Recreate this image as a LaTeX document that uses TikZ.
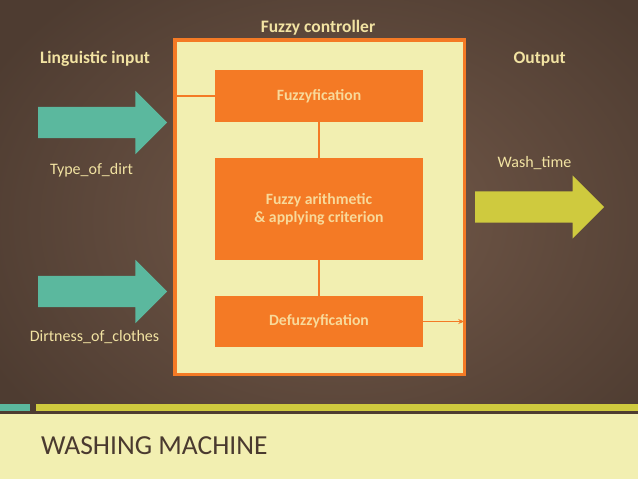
\documentclass[tikz,border=0pt]{standalone}
\usepackage{fontspec}
\setmainfont{Carlito}
\usetikzlibrary{shapes.arrows,arrows.meta}

\definecolor{bgmid}{HTML}{745A4A}
\definecolor{bgedge}{HTML}{4E3C31}
\definecolor{panel}{HTML}{F2EFB1}
\definecolor{fuzzorange}{HTML}{F47A25}
\definecolor{labelcream}{HTML}{F2E3A2}
\definecolor{boxtext}{HTML}{F8D99A}
\definecolor{inteal}{HTML}{5BB89E}
\definecolor{outolive}{HTML}{CFCA3E}
\definecolor{titlebrown}{HTML}{4A3A2F}

\tikzset{
  stage/.style={fill=fuzzorange, minimum width=208pt, text=boxtext,
    font=\fontsize{15.7}{18.3}\selectfont\bfseries, align=center},
  bigarrow/.style={single arrow, single arrow head extend=16pt,
    inner xsep=0pt, inner ysep=15.5pt, minimum height=129pt, anchor=tail},
  heading/.style={text=labelcream, font=\fontsize{17.5}{20}\selectfont\bfseries, anchor=base},
  varname/.style={text=labelcream, font=\fontsize{16}{19}\selectfont, anchor=base},
  link/.style={draw=fuzzorange, line width=1.2pt}
}

\begin{document}
\begin{tikzpicture}[x=1pt,y=-1pt]
\useasboundingbox (0,0) rectangle (638,479);
\begin{scope}
\clip (0,0) rectangle (638,404);
\shade[inner color=bgmid, outer color=bgedge] (-60,-80) rectangle (740,520);
\end{scope}
\fill[bgedge] (0,404) rectangle (638,414);
\fill[inteal] (0,404) rectangle (30,411);
\fill[outolive] (36,404) rectangle (638,411);
\fill[panel] (0,414) rectangle (638,479);
\node[text=titlebrown, font=\fontsize{27.5}{34}\selectfont, anchor=base west, inner sep=0pt] at (41,454) (title) {WASHING MACHINE};

\node[draw=fuzzorange, line width=3.5pt, fill=panel, minimum width=289.5pt, minimum height=334.5pt] at (319.5,207) (ctrl) {};
\node[heading] at (318,32) (ctrllabel) {Fuzzy controller};
\node[stage, minimum height=52pt] at (319,96) (fuzz) {Fuzzyfication};
\node[stage, minimum height=102pt] at (319,209) (arith) {Fuzzy arithmetic\\\& applying criterion};
\node[stage, minimum height=51pt] at (319,321.5) (defuzz) {Defuzzyfication};
\draw[link] (fuzz) -- (arith);
\draw[link] (arith) -- (defuzz);
\draw[link] (ctrl.west |- fuzz.west) -- (fuzz.west);
\draw[link, shorten >=1.75pt, -{Stealth[length=6pt,width=5pt]}] (defuzz.east) -- (ctrl.east |- defuzz.east);

\node[bigarrow, fill=inteal] at (38,122.5) (dirtarrow) {};
\node[bigarrow, fill=inteal] at (38,291.5) (clotharrow) {};
\node[bigarrow, fill=outolive] at (475,207) (timearrow) {};

\node[heading] at (95,63.3) (inlabel) {Linguistic input};
\node[heading] at (539.7,63) (outlabel) {Output};
\node[varname] at (91.5,174) (dirtlabel) {Type\_of\_dirt};
\node[varname] at (94.5,341.7) (clothlabel) {Dirtness\_of\_clothes};
\node[varname] at (534.5,167.3) (timelabel) {Wash\_time};
\end{tikzpicture}
\end{document}
